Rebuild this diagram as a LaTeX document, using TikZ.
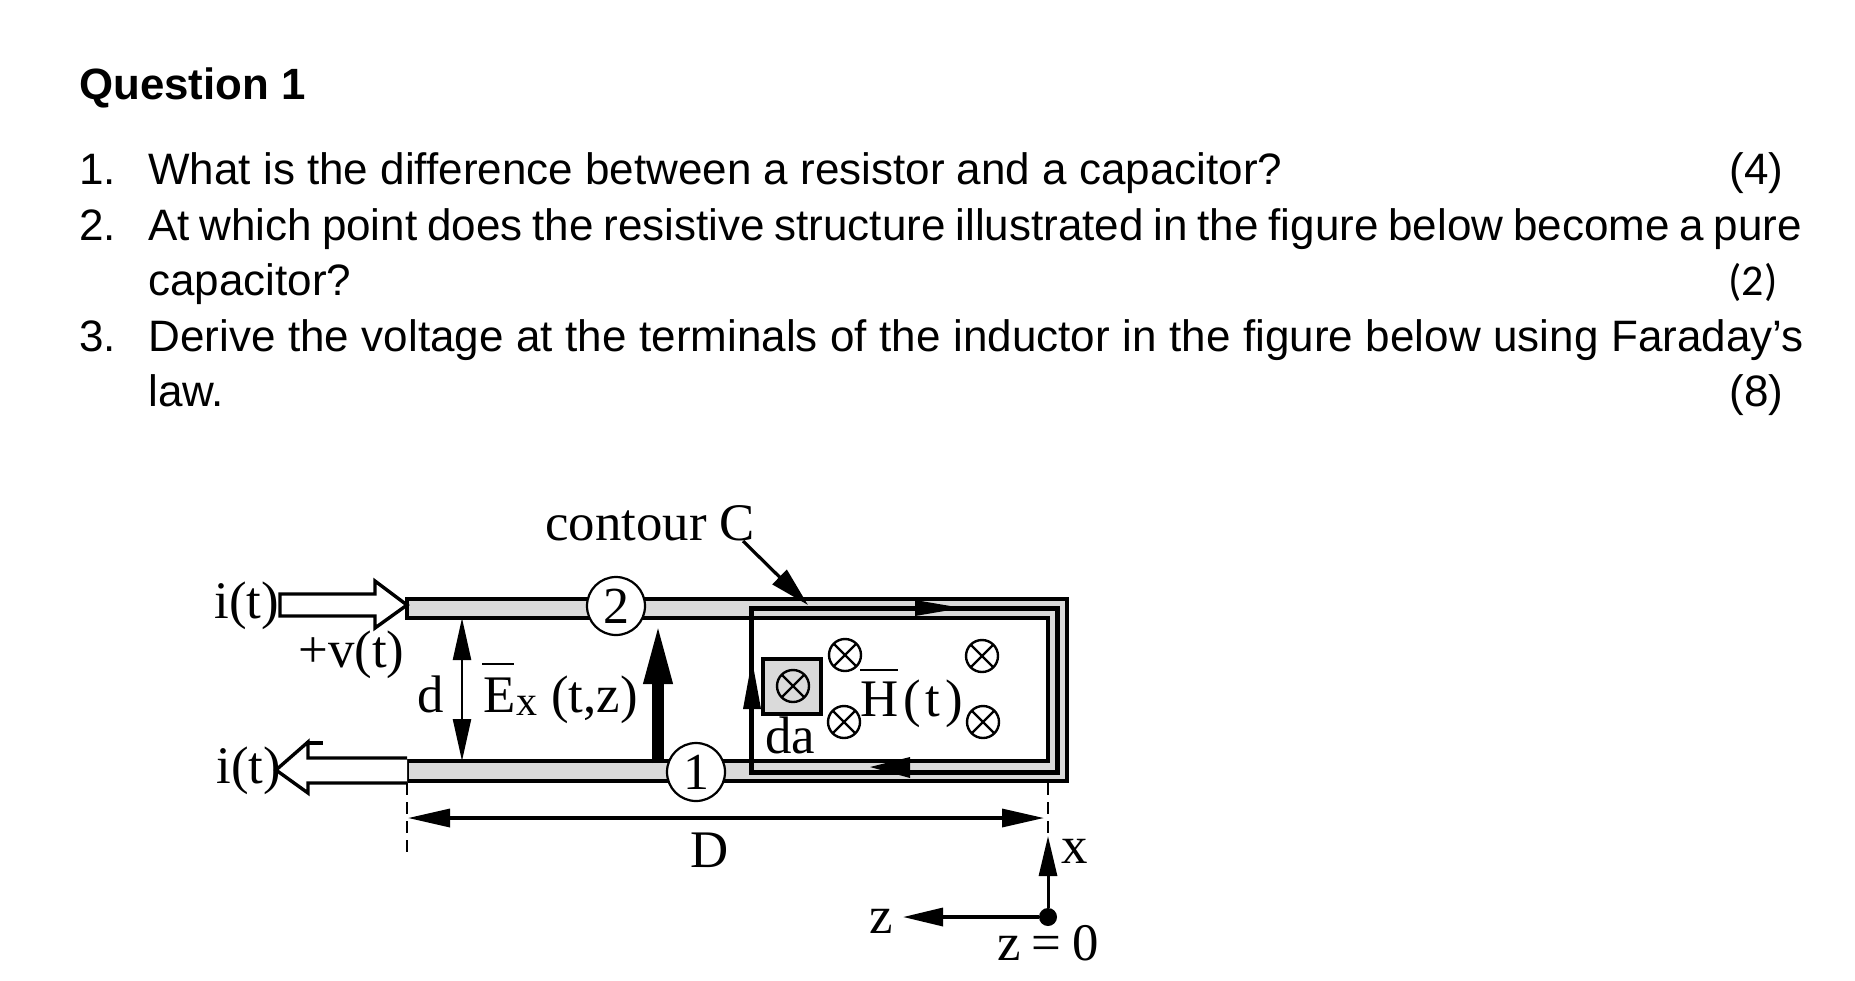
\documentclass[tikz,border=0pt]{standalone}
\usepackage{fontspec}
\setmainfont{Liberation Sans}
\newfontfamily\serifL{Liberation Serif}
\newfontfamily\carl{Carlito}
\usetikzlibrary{arrows.meta}
\definecolor{cond}{HTML}{DADADA}
\tikzset{
  body/.style={anchor=base west,inner sep=0pt,font=\fontsize{22}{24}\selectfont},
  pointsmark/.style={anchor=base east,inner sep=0pt,font=\fontsize{22}{24}\selectfont},
  fig/.style={anchor=base west,inner sep=0pt,font=\serifL\fontsize{26.4}{28}\selectfont},
  figc/.style={anchor=center,inner sep=0pt,font=\serifL\fontsize{26.4}{28}\selectfont},
  num/.style={circle,draw,fill=white,line width=1.1pt,minimum size=29pt,inner sep=0pt,font=\serifL\fontsize{26}{28}\selectfont},
  cross/.style={circle,draw,line width=1.2pt,minimum size=16pt,inner sep=0pt,path picture={
     \draw[line width=1.1pt] (path picture bounding box.north west)--(path picture bounding box.south east)
       (path picture bounding box.north east)--(path picture bounding box.south west);}},
  wire/.style={draw=black,line width=1.9pt},
  blockarrow/.style={draw=black,fill=white,line width=1.7pt,line join=miter},
  dimline/.style={line width=1.7pt,{Triangle[length=21pt,width=9pt]}-{Triangle[length=21pt,width=9pt]}},
  single/.style={-{Triangle[length=20pt,width=10pt]}},
  dashline/.style={line width=1.3pt,dash pattern=on 6pt off 3.5pt},
}
\begin{document}
\begin{tikzpicture}[x=0.5pt,y=-0.5pt]
\useasboundingbox (0,0) rectangle (1855,980);
% text
\node[body,font=\bfseries\fontsize{21.9}{24}\selectfont] (title) at (79,99) {Question 1};
\node[body] (n1) at (79,184) {1.};
\node[body] (t1) at (148,184) {What is the difference between a resistor and a capacitor?};
\node[pointsmark] (m1) at (1784,184) {(4)};
\node[body] (n2) at (79,240) {2.};
\node[body] (t2) at (148,240) {\spaceskip=4.9pt At which point does the resistive structure illustrated in the figure below become a pure};
\node[body] (t2b) at (148,295) {capacitor?};
\node[pointsmark,font=\carl\fontsize{22}{24}\selectfont] (m2) at (1778,295) {(2)};
\node[body] (n3) at (79,351) {3.};
\node[body] (t3) at (148,351) {\spaceskip=6.3pt Derive the voltage at the terminals of the inductor in the figure below using Faraday’s};
\node[body] (t3b) at (148,406) {law.};
\node[pointsmark] (m3) at (1784,406) {(8)};
% conductor
\path[fill=cond,wire] (407,599) -- (1067,599) -- (1067,781) -- (407,781) -- (407,761) -- (1048,761) -- (1048,618) -- (407,618) -- cycle;
% block arrows
\draw[blockarrow] (280,594) -- (375,594) -- (375,581) -- (407,605) -- (375,628) -- (375,616) -- (280,616) -- cycle;
\draw[blockarrow] (407,758) -- (308,758) -- (308,742) -- (276,770) -- (308,793) -- (308,783) -- (407,783);
\draw[line width=2.4pt] (306,743) -- (323,743);
% contour
\draw[line width=2.5pt,line join=miter] (751,608) rectangle (1057,772);
% dims
\coordinate (dtop) at (462,618); \coordinate (dbot) at (462,761);
\draw[dimline,line width=1.2pt] (dtop) -- (dbot);
\coordinate (efoot) at (658,763); \coordinate (etip) at (658,622);
\draw[line width=6pt,-{Triangle[length=31pt,width=13pt]}] (efoot) -- (etip);
\node[num] (two) at (616,606) {2};
\node[num] (one) at (696,772) {1};
% contour label
\node[fig] (cont) at (545,540) {contour C};
\coordinate (contip) at (808,605);
\draw[line width=1.6pt,single] (743,541) -- (contip);
% contour arrowheads
\fill (915,600) -- (962,608) -- (915,616) -- cycle;
\fill (910,757) -- (870,767) -- (910,778) -- cycle;
\fill (743,709) -- (752,660) -- (761,709) -- cycle;
% da
\node[draw,fill=cond,line width=1.6pt,minimum width=29pt,minimum height=27.5pt,inner sep=0pt] (dabox) at (792,686.5) {};
\node[cross] (c0) at (793,686) {};
\node[cross] (c1) at (845,655) {};
\node[cross] (c2) at (982,656) {};
\node[cross] (c3) at (844,722) {};
\node[cross] (c4) at (983,722) {};
% labels
\node[fig] (da) at (765,753) {da};
\node[fig] (h) at (860,716) {H};
\draw[line width=1.1pt] (860,670) -- (898,670);
\node[fig] (ht) at (903,716) {(\kern2.5pt t\kern2.5pt)};
\node[fig] (i1) at (214,618) {i(t)};
\node[fig] (i2) at (216,783) {i(t)};
\node[fig] (v) at (298,667) {+v(t)};
\node[fig] (d) at (417,712) {d};
\node[fig] (e) at (483,712) {E};
\draw[line width=1.1pt] (482,664) -- (514,664);
\node[fig,font=\serifL\fontsize{21}{24}\selectfont] (ex) at (516,715) {x};
\node[fig] (et) at (551,712) {(t,z)};
% D dim
\coordinate (dl) at (408,818); \coordinate (dr) at (1044,818);
\draw[dimline] (dl) -- (dr);
\draw[dashline] (407,783) -- (407,853);
\draw[dashline] (1048,783) -- (1048,838);
\node[figc] (dd) at (710,850) {D};
% axes
\node[circle,fill=black,minimum size=9pt,inner sep=0pt] (orig) at (1048,917) {};
\coordinate (xtip) at (1048,836); \coordinate (ztip) at (903,917);
\draw[line width=1.5pt,-{Triangle[length=20pt,width=9pt]}] (orig) -- (xtip);
\draw[line width=1.7pt,-{Triangle[length=20pt,width=9pt]}] (orig) -- (ztip);
\node[figc] (xl) at (1075,851) {x};
\node[figc] (zl) at (881,921) {z};
\node[figc] (z0) at (1048,943) {z\,\kern1pt=\kern1pt\,0};
\end{tikzpicture}
\end{document}
